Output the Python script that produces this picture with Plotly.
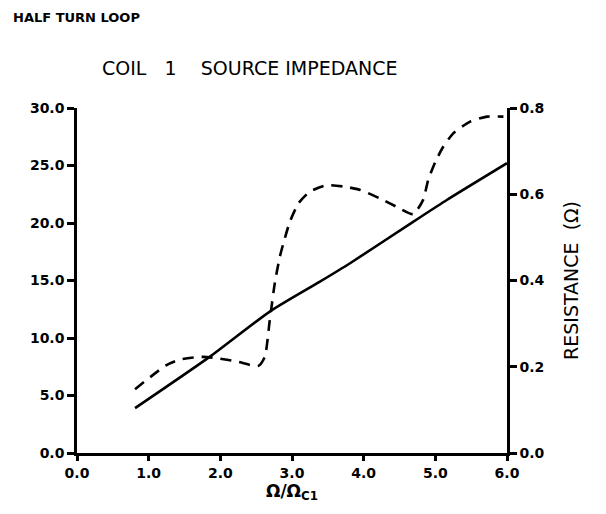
import plotly.graph_objects as go

# Reactance-like solid curve (left axis)
x_solid = [0.81, 1.86, 2.69, 3.39, 3.81, 4.69, 5.16, 6.0]
y_solid = [3.9, 8.4, 12.3, 14.9, 16.5, 20.1, 22.0, 25.2]

# Resistance dashed curve (right axis, ohms)
x_res = [0.81, 1.25, 1.44, 1.76, 1.95, 2.23, 2.53, 2.62, 2.69, 2.76, 2.83, 2.90, 2.97,
         3.09, 3.25, 3.48, 3.72, 3.95, 4.23, 4.46, 4.69, 4.83, 4.90, 5.0, 5.11, 5.25,
         5.48, 5.72, 5.95]
y_res = [0.148, 0.204, 0.217, 0.223, 0.220, 0.212, 0.202, 0.223, 0.308, 0.394, 0.455,
         0.498, 0.536, 0.579, 0.606, 0.621, 0.618, 0.610, 0.590, 0.571, 0.554, 0.587,
         0.633, 0.675, 0.710, 0.741, 0.768, 0.780, 0.780]

x_ticks = [0, 1, 2, 3, 4, 5, 6]
y_ticks = [0, 5, 10, 15, 20, 25, 30]
y2_ticks = [0, 0.2, 0.4, 0.6, 0.8]

FONT = "DejaVu Sans"
tickfont = dict(family=FONT, size=14, color="black", weight="bold")

fig = go.Figure()
fig.add_trace(go.Scatter(x=x_solid, y=y_solid, mode="lines",
                         line=dict(color="black", width=2.6, shape="spline", smoothing=0.6),
                         showlegend=False))
fig.add_trace(go.Scatter(x=x_res, y=y_res, mode="lines", yaxis="y2",
                         line=dict(color="black", width=2.6, dash="11px,8px",
                                   shape="spline", smoothing=0.6),
                         showlegend=False))

fig.update_layout(
    width=606, height=514,
    margin=dict(l=77, r=99, t=108, b=61),
    paper_bgcolor="white", plot_bgcolor="white",
    xaxis=dict(range=[0, 6], tickvals=x_ticks, tickformat=".1f",
               showline=True, linecolor="black", linewidth=2.5,
               ticks="outside", ticklen=5, tickwidth=2.5, tickcolor="black",
               showgrid=False, zeroline=False, tickfont=tickfont,
               title=dict(text="Ω/Ω<sub>C1</sub>",
                          font=dict(family=FONT, size=17, color="black", weight="bold"),
                          standoff=4)),
    yaxis=dict(range=[0, 30], tickvals=y_ticks, tickformat=".1f",
               showline=True, linecolor="black", linewidth=2.5,
               ticks="outside", ticklen=7, tickwidth=2.5, tickcolor="black",
               showgrid=False, zeroline=False, tickfont=tickfont),
    yaxis2=dict(range=[0, 0.8], tickvals=y2_ticks, tickformat=".1f",
                overlaying="y", side="right",
                showline=True, linecolor="black", linewidth=2.5,
                ticks="outside", ticklen=7, tickwidth=2.5, tickcolor="black",
                showgrid=False, zeroline=False, tickfont=tickfont,
                title=dict(text="RESISTANCE  (Ω)",
                           font=dict(family=FONT, size=19, color="black"),
                           standoff=22)),
)

plot_w = 606 - 77 - 99
plot_h = 514 - 108 - 61
def px_to_paper(px, py):
    return (px - 77) / plot_w, (514 - 61 - py) / plot_h

ax, ay = px_to_paper(11, 18)
bx, by = px_to_paper(100, 68)
fig.add_annotation(text="<b>HALF TURN LOOP</b>", x=ax, y=ay, xref="paper", yref="paper",
                   showarrow=False, xanchor="left", yanchor="middle",
                   font=dict(family=FONT, size=13, color="black"))
fig.add_annotation(text="COIL   1    SOURCE IMPEDANCE", x=bx, y=by, xref="paper", yref="paper",
                   showarrow=False, xanchor="left", yanchor="middle",
                   font=dict(family=FONT, size=19, color="black"))

fig.write_html("out.html")
